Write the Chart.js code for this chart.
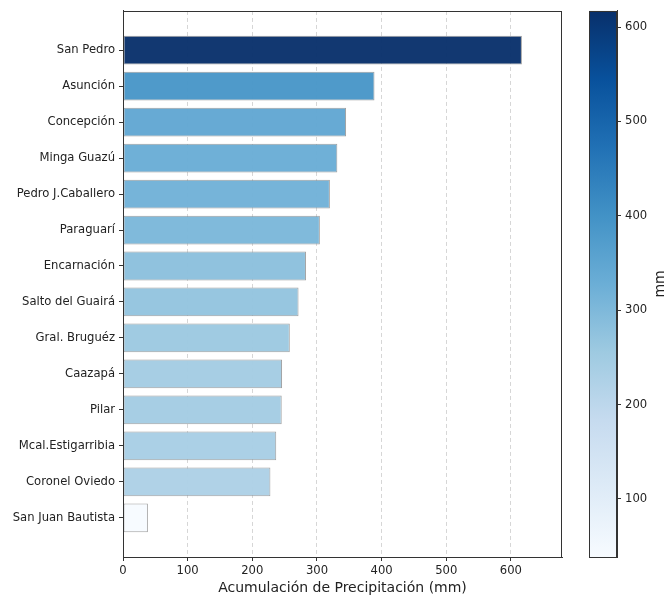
<!DOCTYPE html>
<html>
<head>
<meta charset="utf-8">
<script src="https://cdn.jsdelivr.net/npm/chart.js@4.4.1/dist/chart.umd.min.js"></script>
<style>
  html, body { margin: 0; padding: 0; background: #fff; }
  #wrap { position: relative; width: 667px; height: 599px; }
  #main { position: absolute; left: 0; top: 0; width: 600px; height: 599px; }
  #cbar { position: absolute; left: 580px; top: 0; width: 87px; height: 599px; }
</style>
</head>
<body>
<div id="wrap">
  <div id="main"><canvas id="myChart"></canvas></div>
  <div id="cbar"><canvas id="cbChart"></canvas></div>
</div>
<script>
const stations = ['San Pedro', 'Asunción', 'Concepción', 'Minga Guazú', 'Pedro J.Caballero', 'Paraguarí',
    'Encarnación', 'Salto del Guairá', 'Gral. Bruguéz', 'Caazapá', 'Pilar', 'Mcal.Estigarribia',
    'Coronel Oviedo', 'San Juan Bautista'];
const rain = [617, 389, 345, 331.5, 320, 304.5, 283, 271.5, 258, 246, 245.5, 237, 228, 38.5];
const xTicks = [0, 100, 200, 300, 400, 500, 600];
const cbTicks = [100, 200, 300, 400, 500, 600];

// matplotlib "Blues"
const blues = ['#f7fbff', '#deebf7', '#c6dbef', '#9ecae1', '#6baed6', '#4292c6', '#2171b5', '#08519c', '#08306b'];
const vmin = Math.min(...rain);
const vmax = Math.max(...rain);

function hex(c) {
    return [1, 3, 5].map(i => parseInt(c.substr(i, 2), 16));
}
function bluesAt(t, alpha) {
    t = Math.max(0, Math.min(1, t)) * (blues.length - 1);
    const i = Math.min(Math.floor(t), blues.length - 2);
    const f = t - i;
    const a = hex(blues[i]), b = hex(blues[i + 1]);
    const c = a.map((v, k) => Math.round(v + (b[k] - v) * f));
    return `rgba(${c[0]},${c[1]},${c[2]},${alpha})`;
}

const font = { family: 'DejaVu Sans', size: 11.6 };
const ink = '#222';

const frame = {
    id: 'frame',
    afterDraw(chart) {
        const { ctx, chartArea: a } = chart;
        ctx.save();
        ctx.strokeStyle = '#333';
        ctx.lineWidth = 1;
        ctx.strokeRect(Math.round(a.left) + 0.5, Math.round(a.top) + 0.5,
            Math.round(a.right - a.left) - 1, Math.round(a.bottom - a.top));
        ctx.restore();
    }
};

new Chart(document.getElementById('myChart'), {
    type: 'bar',
    data: {
        datasets: [{
            data: rain.map((v, i) => ({ x: v, y: i })),
            backgroundColor: rain.map(v => bluesAt((v - vmin) / (vmax - vmin), 0.96)),
            borderColor: 'rgba(128,128,128,0.75)',
            borderWidth: 1,
            borderSkipped: false,
            categoryPercentage: 1,
            barPercentage: 0.8,
        }]
    },
    options: {
        indexAxis: 'y',
        responsive: true,
        maintainAspectRatio: false,
        animation: false,
        layout: { padding: { left: 0, top: 6.3, right: 38, bottom: 0 } },
        scales: {
            x: {
                type: 'linear',
                min: 0,
                max: 679,
                offset: false,
                afterBuildTicks: s => { s.ticks = xTicks.map(v => ({ value: v })); },
                afterFit: s => { s.height = 42; },
                ticks: { font: font, color: ink, padding: 3, maxRotation: 0 },
                grid: {
                    offset: false,
                    color: 'rgba(0,0,0,0.16)',
                    tickColor: '#333',
                    tickLength: 4,
                    tickBorderDash: [],
                },
                border: { color: '#333', width: 1, dash: [4, 3] },
                title: {
                    display: true,
                    text: 'Acumulación de Precipitación (mm)',
                    font: { family: 'DejaVu Sans', size: 14 },
                    color: ink,
                    padding: { top: 0, bottom: 2 },
                }
            },
            y: {
                type: 'linear',
                reverse: true,
                offset: false,
                min: -1.09,
                max: 14.09,
                afterBuildTicks: s => { s.ticks = stations.map((_, i) => ({ value: i })); },
                afterFit: s => { s.width = 123; },
                ticks: { font: font, color: ink, padding: 4, callback: v => stations[v] },
                grid: { offset: false, drawOnChartArea: false, tickColor: '#333', tickLength: 4 },
                border: { color: '#333', width: 1 },
            }
        },
        plugins: {
            legend: { display: false },
            tooltip: { enabled: false },
        }
    },
    plugins: [frame]
});

const colorbar = {
    id: 'colorbar',
    beforeDatasetsDraw(chart) {
        const { ctx, chartArea: a } = chart;
        const g = ctx.createLinearGradient(0, a.bottom, 0, a.top);
        blues.forEach((c, i) => g.addColorStop(i / (blues.length - 1), c));
        ctx.save();
        ctx.fillStyle = g;
        ctx.fillRect(a.left, a.top, a.right - a.left, a.bottom - a.top);
        ctx.restore();
    },
    afterDraw(chart) {
        const { ctx, chartArea: a } = chart;
        ctx.save();
        ctx.strokeStyle = '#333';
        ctx.lineWidth = 1;
        ctx.strokeRect(Math.round(a.left) + 0.5, Math.round(a.top) + 0.5,
            Math.round(a.right - a.left) - 1, Math.round(a.bottom - a.top));
        ctx.translate(80, (a.top + a.bottom) / 2);
        ctx.rotate(-Math.PI / 2);
        ctx.fillStyle = ink;
        ctx.font = '14px "DejaVu Sans"';
        ctx.textAlign = 'center';
        ctx.textBaseline = 'middle';
        ctx.fillText('mm', 0, 0);
        ctx.restore();
    }
};

new Chart(document.getElementById('cbChart'), {
    type: 'bar',
    data: { labels: [''], datasets: [] },
    options: {
        responsive: true,
        maintainAspectRatio: false,
        animation: false,
        layout: { padding: { left: 9, top: 8, right: 0, bottom: 42 } },
        scales: {
            x: { display: false },
            y: {
                position: 'right',
                min: vmin,
                max: vmax,
                afterBuildTicks: s => { s.ticks = cbTicks.map(v => ({ value: v })); },
                afterFit: s => { s.width = 50; },
                ticks: { font: font, color: ink, padding: 4 },
                grid: { drawOnChartArea: false, tickColor: '#333', tickLength: 4 },
                border: { color: '#333', width: 1 },
            }
        },
        plugins: {
            legend: { display: false },
            tooltip: { enabled: false },
        }
    },
    plugins: [colorbar]
});
</script>
</body>
</html>
